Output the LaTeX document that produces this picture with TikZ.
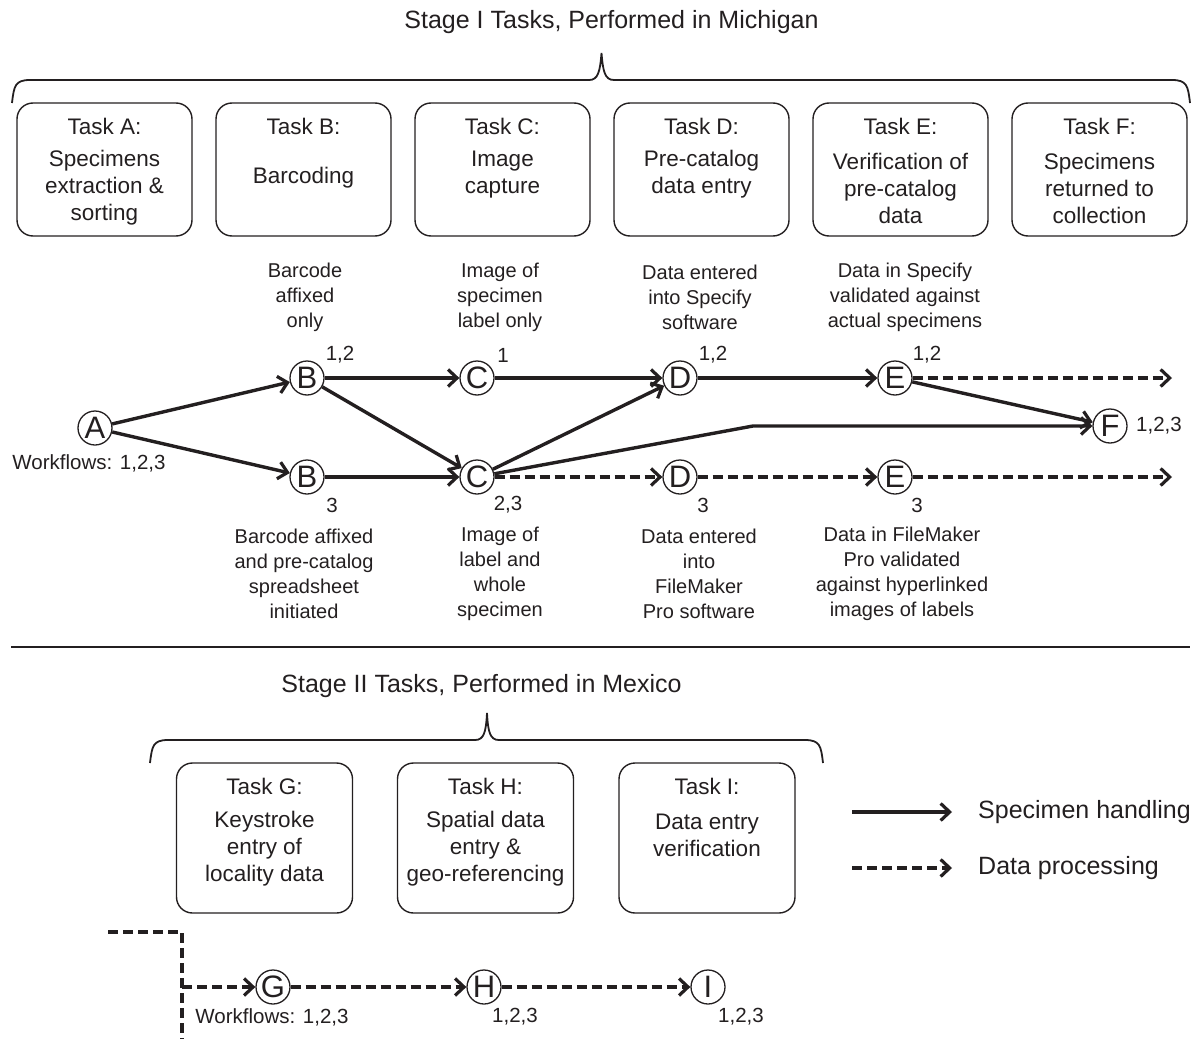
\documentclass[tikz,border=0pt]{standalone}
\usepackage{fontspec}
\setmainfont{Liberation Sans}
\usetikzlibrary{arrows.meta}
\definecolor{ink}{HTML}{231F20}
\begin{document}
\begin{tikzpicture}[x=1pt,y=-1pt,
  every node/.style={text=ink},
  taskbox/.style={draw=ink, line width=1.4pt, rounded corners=16pt, minimum width=175pt, minimum height=133pt, inner sep=0pt},
  taskboxii/.style={taskbox, minimum width=176pt, minimum height=150pt},
  circ/.style={circle, draw=ink, line width=1.3pt, minimum size=34pt, inner sep=0pt, font=\fontsize{31}{31}\selectfont},
  lbl/.style={font=\fontsize{20.5}{24}\selectfont, inner sep=0pt},
  ann/.style={align=center, font=\fontsize{20}{25}\selectfont, inner sep=0pt},
  boxtxt/.style={align=center, font=\fontsize{22.5}{27}\selectfont, inner sep=0pt},
  ttl/.style={font=\fontsize{25}{30}\selectfont, inner sep=0pt},
  flow/.style={draw=ink, line width=3.4pt, -{Straight Barb[length=9pt,width=17pt,line width=3.2pt]}},
  data/.style={flow, dash pattern=on 10pt off 5pt},
  brace/.style={draw=ink, line width=1.8pt}
]
\useasboundingbox (0,0) rectangle (1201,1038);

% ---------- Stage I ----------
\node[ttl] (t1) at (611.5,22) {Stage I Tasks, Performed in Michigan};
\draw[brace] (12,103) .. controls (14,86) and (15,80) .. (30,80) -- (589,80)
  .. controls (598,80) and (600,72) .. (601.5,53) .. controls (603,72) and (605,80) .. (614,80)
  -- (1172,80) .. controls (1187,80) and (1188,86) .. (1190,103);

\node[taskbox] (bA) at (104.5,169.5) {};
\node[taskbox] (bB) at (303.5,169.5) {};
\node[taskbox] (bC) at (502.5,169.5) {};
\node[taskbox] (bD) at (701.5,169.5) {};
\node[taskbox] (bE) at (900.5,169.5) {};
\node[taskbox] (bF) at (1099.5,169.5) {};

\node[boxtxt] (tA) at (104.5,126) {Task A:};
\node[boxtxt] (tB) at (303.5,126) {Task B:};
\node[boxtxt] (tC) at (502.5,126) {Task C:};
\node[boxtxt] (tD) at (701.5,126) {Task D:};
\node[boxtxt] (tE) at (900.5,126) {Task E:};
\node[boxtxt] (tF) at (1099.5,126) {Task F:};

\node[boxtxt] (dA) at (104.5,188) {Specimens\\extraction \&\\sorting};
\node[boxtxt] (dB) at (303.5,178) {Barcoding};
\node[boxtxt] (dC) at (502.5,174.5) {Image\\capture};
\node[boxtxt] (dD) at (701.5,174.5) {Pre-catalog\\data entry};
\node[boxtxt] (dE) at (900.5,188) {Verification of\\pre-catalog\\data};
\node[boxtxt] (dF) at (1099.5,188) {Specimens\\returned to\\collection};

\node[ann] (aB) at (305,297) {Barcode\\affixed\\only};
\node[ann] (aC) at (500,297) {Image of\\specimen\\label only};
\node[ann] (aD) at (700,297) {Data entered\\into Specify\\software};
\node[ann] (aE) at (905,297) {Data in Specify\\validated against\\actual specimens};

\node[ann] (uB) at (304,574) {Barcode affixed\\and pre-catalog\\spreadsheet\\initiated};
\node[ann] (uC) at (500,574) {Image of\\label and\\whole\\specimen};
\node[ann] (uD) at (699,574) {Data entered\\into\\FileMaker\\Pro software};
\node[ann] (uE) at (902,574) {Data in FileMaker\\Pro validated\\against hyperlinked\\images of labels};

\node[circ] (A) at (95,428) {A};
\node[circ] (B1) at (307,378) {B};
\node[circ] (B2) at (307,477) {B};
\node[circ] (C1) at (477,378) {C};
\node[circ] (C2) at (477,477) {C};
\node[circ] (D1) at (680,378) {D};
\node[circ] (D2) at (680,477) {D};
\node[circ] (E1) at (895,378) {E};
\node[circ] (E2) at (895,477) {E};
\node[circ] (F) at (1110,426) {F};
\coordinate (endE1) at (1172,378);
\coordinate (endE2) at (1172,477);
\coordinate (bend) at (753,426);

\node[lbl] (wA) at (89,463) {Workflows: 1,2,3};
\node[lbl] (lB1) at (340,355) {1,2};
\node[lbl] (lB2) at (332,505) {3};
\node[lbl] (lC1) at (503,355) {1};
\node[lbl] (lC2) at (508,505) {2,3};
\node[lbl] (lD1) at (713,355) {1,2};
\node[lbl] (lD2) at (703,505) {3};
\node[lbl] (lE1) at (927,355) {1,2};
\node[lbl] (lE2) at (917,505) {3};
\node[lbl,anchor=west] (lF) at (1136,426) {1,2,3};

\draw[flow] (A) -- (B1);
\draw[flow] (A) -- (B2);
\draw[flow] (B1) -- (C1);
\draw[flow] (B1) -- (C2);
\draw[flow] (B2) -- (C2);
\draw[flow] (C1) -- (D1);
\draw[flow] (C2) -- (D1);
\draw[flow] (C2) -- (bend) -- (F);
\draw[flow] (D1) -- (E1);
\draw[flow] (E1) -- (F);
\draw[data] (C2) -- (D2);
\draw[data] (D2) -- (E2);
\draw[data] (E1) -- (endE1);
\draw[data] (E2) -- (endE2);

% separator
\coordinate (sepL) at (11,647);
\coordinate (sepR) at (1190,647);
\draw[draw=ink, line width=2pt] (sepL) -- (sepR);

% ---------- Stage II ----------
\node[ttl] (t2) at (481.5,686) {Stage II Tasks, Performed in Mexico};
\draw[brace] (150,763) .. controls (152,746) and (153,740) .. (168,740) -- (475,740)
  .. controls (484,740) and (486,732) .. (487,713) .. controls (488,732) and (490,740) .. (499,740)
  -- (805,740) .. controls (820,740) and (821,746) .. (823,763);

\node[taskboxii] (bG) at (264.5,838) {};
\node[taskboxii] (bH) at (485.5,838) {};
\node[taskboxii] (bI) at (707,838) {};
\node[boxtxt] (tG) at (264.5,786) {Task G:};
\node[boxtxt] (tH) at (485.5,786) {Task H:};
\node[boxtxt] (tI) at (707,786) {Task I:};
\node[boxtxt] (dG) at (264.5,849) {Keystroke\\entry of\\locality data};
\node[boxtxt] (dH) at (485.5,849) {Spatial data\\entry \&\\geo-referencing};
\node[boxtxt] (dI) at (707,835.5) {Data entry\\verification};

\node[circ] (G) at (273,987) {G};
\node[circ] (H) at (484,987) {H};
\node[circ] (I) at (708,987) {I};
\node[lbl] (wG) at (272,1017) {Workflows: 1,2,3};
\node[lbl] (lH) at (515,1017) {1,2,3};
\node[lbl] (lI) at (741,1017) {1,2,3};

\coordinate (in0) at (108,932);
\coordinate (in1) at (182,932);
\coordinate (in2) at (182,1040);
\coordinate (inG) at (182,987);
\draw[draw=ink, line width=3.4pt, dash pattern=on 10pt off 5pt] (in0) -- (in1) -- (in2);
\draw[data] (inG) -- (G);
\draw[data] (G) -- (H);
\draw[data] (H) -- (I);

% legend
\coordinate (ls0) at (852,812);
\coordinate (ls1) at (952,812);
\coordinate (ld0) at (852,868);
\coordinate (ld1) at (952,868);
\draw[flow] (ls0) -- (ls1);
\draw[data] (ld0) -- (ld1);
\node[ttl,anchor=west] (legS) at (978,812) {Specimen handling};
\node[ttl,anchor=west] (legD) at (978,868) {Data processing};
\end{tikzpicture}
\end{document}
